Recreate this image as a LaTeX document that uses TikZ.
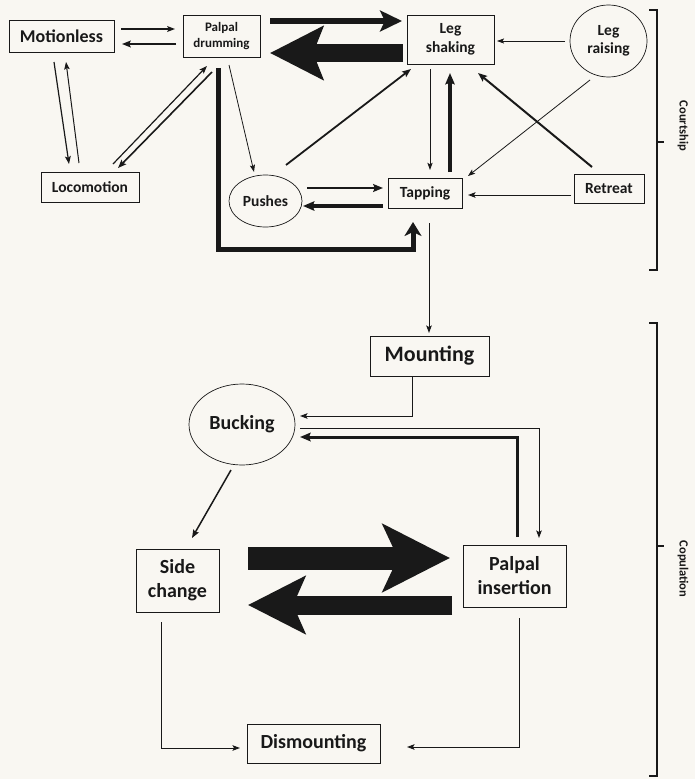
\documentclass[tikz,border=0pt]{standalone}
\usepackage{fontspec}
\setmainfont{Carlito}
\usetikzlibrary{arrows.meta,shapes.geometric}
\definecolor{bg}{RGB}{249,247,242}
\definecolor{ink}{RGB}{25,25,25}
\begin{document}
\begin{tikzpicture}[x=1pt,y=-1pt,
  box/.style={draw=ink,line width=0.8pt,rectangle,inner sep=0pt,align=center,text=ink},
  oval/.style={draw=ink,line width=0.7pt,ellipse,inner sep=0pt,align=center,text=ink},
  fA/.style={font=\bfseries\fontsize{15.5}{18.5}\selectfont},
  fB/.style={font=\bfseries\fontsize{13}{16}\selectfont},
  fC/.style={font=\bfseries\fontsize{18}{22}\selectfont},
  fD/.style={font=\bfseries\fontsize{20}{24}\selectfont},
  fE/.style={font=\bfseries\fontsize{22}{26}\selectfont},
  fL/.style={font=\bfseries\fontsize{12.5}{15}\selectfont},
  arr/.style={draw=ink,line width=#1pt,-{Stealth[length=6pt 1.5,width=4pt 1.5,inset=1.5pt]}},
  bracket/.style={draw=ink,line width=1.2pt}]
\path[fill=bg] (0,0) rectangle (695,779);
\useasboundingbox (0,0) rectangle (695,779);

% nodes
\node[box,fC,minimum width=105,minimum height=32] (mot) at (61.5,36) {Motionless};
\node[box,fB,minimum width=77,minimum height=42] (pd) at (221.5,36) {Palpal\\drumming};
\node[box,fA,minimum width=98,minimum height=30] (loco) at (90,187) {Locomotion};
\node[oval,fA,minimum width=73,minimum height=52] (push) at (265.5,201) {Pushes};
\node[box,fA,minimum width=74,minimum height=30] (tap) at (425,193) {Tapping};
\node[box,fA,minimum width=87,minimum height=49] (legsh) at (450.5,39.5) {Leg\\shaking};
\node[oval,fA,minimum width=77,minimum height=72] (legr) at (608.5,41) {Leg\\raising};
\node[box,fA,minimum width=70,minimum height=29] (retr) at (609,188.5) {Retreat};
\node[box,fE,minimum width=119,minimum height=40] (mount) at (429.5,356) {Mounting};
\node[oval,fD,minimum width=106,minimum height=81] (buck) at (242,424.5) {Bucking};
\node[box,fD,minimum width=83,minimum height=63] (side) at (177.5,580.5) {Side\\change};
\node[box,fD,minimum width=103,minimum height=62] (pins) at (514.5,576) {Palpal\\insertion};
\node[box,fD,minimum width=133,minimum height=39] (dism) at (313.5,743.5) {Dismounting};

% courtship connectors
\draw[arr=1.2] ([shift={(59.5,-7)}]mot.center) -- ([shift={(-46.5,-7)}]pd.center);
\draw[arr=1.8] ([shift={(-45.5,8)}]pd.center) -- ([shift={(60.5,8)}]mot.center);
\draw[arr=1.2] ([shift={(-7.5,26)}]mot.center) -- ([shift={(-21,-23)}]loco.center);
\draw[arr=1] ([shift={(-11,-24)}]loco.center) -- ([shift={(4.5,26)}]mot.center);
\draw[arr=1.2] ([shift={(23,-23)}]loco.center) -- ([shift={(-14.5,30)}]pd.center);
\draw[arr=1.6] ([shift={(-9.5,36)}]pd.center) -- ([shift={(28,-19)}]loco.center);
\draw[arr=0.8] ([shift={(7.5,29)}]pd.center) -- ([shift={(-11.5,-29)}]push.center);
\draw[ink,line width=5pt,line join=miter,-{Stealth[length=14pt,width=17pt,inset=4pt]}]
  ([shift={(-3.5,32)}]pd.center) |- ([shift={(-12,56)}]tap.center) -- ([shift={(-12,29)}]tap.center);
\draw[ink,line width=6pt,-{Stealth[length=22pt,width=21pt,inset=5pt]}]
  ([shift={(48.5,-15)}]pd.center) -- ([shift={(-48.5,-18.5)}]legsh.center);
\draw[ink,line width=18pt,-{Stealth[length=53pt,width=53pt,inset=10pt]}]
  ([shift={(-47.5,13.5)}]legsh.center) -- ([shift={(48.5,17)}]pd.center);
\draw[arr=0.7] ([shift={(-43.5,0)}]legr.center) -- ([shift={(46.5,1.5)}]legsh.center);
\draw[arr=0.8] ([shift={(-18.5,39)}]legr.center) -- ([shift={(43,-17)}]tap.center);
\draw[arr=2] ([shift={(-17,-21.5)}]retr.center) -- ([shift={(27.5,33.5)}]legsh.center);
\draw[arr=1] ([shift={(-38,6.5)}]retr.center) -- ([shift={(43,2)}]tap.center);
\draw[arr=0.8] ([shift={(-20.5,29.5)}]legsh.center) -- ([shift={(5,-23)}]tap.center);
\draw[arr=3.5] ([shift={(25,-21)}]tap.center) -- ([shift={(-0.5,33.5)}]legsh.center);
\draw[arr=1.8] ([shift={(20.5,-36)}]push.center) -- ([shift={(-39.5,29.5)}]legsh.center);
\draw[arr=2.5] ([shift={(41.5,-13)}]push.center) -- ([shift={(-42,-5)}]tap.center);
\draw[arr=3.5] ([shift={(-42,13)}]tap.center) -- ([shift={(37.5,5)}]push.center);
\draw[arr=1] ([shift={(4,30)}]tap.center) -- ([shift={(-0.5,-23)}]mount.center);

% copulation connectors
\draw[arr=1] ([shift={(-17.5,21)}]mount.center) |- ([shift={(58,-8.5)}]buck.center);
\draw[arr=1] ([shift={(58,3.5)}]buck.center) -| ([shift={(24.5,-38)}]pins.center);
\draw[arr=3] ([shift={(2.5,-39)}]pins.center) |- ([shift={(58,12.5)}]buck.center);
\draw[arr=1.5] ([shift={(-11,45.5)}]buck.center) -- ([shift={(14.5,-42.5)}]side.center);
\draw[ink,line width=23pt,-{Stealth[length=67pt,width=67pt,inset=15pt]}]
  ([shift={(70.5,-22.5)}]side.center) -- ([shift={(-64.5,-18)}]pins.center);
\draw[ink,line width=19pt,-{Stealth[length=57pt,width=57pt,inset=12pt]}]
  ([shift={(-62.5,29)}]pins.center) -- ([shift={(70.5,24.5)}]side.center);
\draw[arr=1] ([shift={(-16.5,41.5)}]side.center) |- ([shift={(-73.5,4.5)}]dism.center);
\draw[arr=1] ([shift={(4.5,42)}]pins.center) |- ([shift={(93.5,3.5)}]dism.center);

% brackets
\draw[bracket] (649,10) -- (657,10) -- (657,270) -- (649,270);
\draw[bracket] (657,142) -- (664,142);
\draw[bracket] (649,323) -- (657,323) -- (657,776) -- (649,776);
\draw[bracket] (657,546) -- (664,546);
\node[fL,text=ink,rotate=-90] (court) at (683,126) {Courtship};
\node[fL,text=ink,rotate=-90] (copul) at (683,569) {Copulation};
\end{tikzpicture}
\end{document}
